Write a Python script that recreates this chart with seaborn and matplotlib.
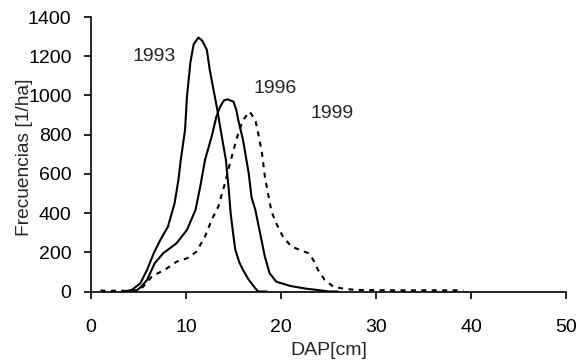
import matplotlib
matplotlib.use("Agg")
import matplotlib.pyplot as plt
import seaborn as sns
import pandas as pd

# ---- data ----
x_1993 = [3.5, 4.3, 5.2, 5.9, 6.6, 7.3, 8.1, 8.8, 9.2, 9.45, 9.9, 10.1, 10.35, 10.45, 10.8, 11.3,
          11.7, 12.2, 12.5, 12.9, 13.3, 13.65, 14.2, 14.5, 14.7, 15.0, 15.2, 15.6, 16.0, 16.6, 17.3, 17.6, 18.5]
y_1993 = [0, 8, 42, 110, 195, 263, 331, 450, 569, 671, 824, 994, 1113, 1164, 1260, 1295,
          1280, 1232, 1130, 1028, 926, 824, 671, 520, 399, 280, 212, 150, 110, 60, 16, 0, 0]

x_1996 = [4.5, 4.8, 5.3, 5.9, 6.7, 7.6, 9.0, 10.1, 11.0, 11.5, 12.0, 12.7, 13.2, 13.6, 14.0, 14.4,
          15.0, 15.3, 15.5, 16.0, 16.6, 16.9, 17.3, 17.8, 18.3, 18.8, 19.5, 21.0, 22.7, 23.8, 25.0, 26.0]
y_1996 = [0, 5, 25, 59, 144, 195, 246, 314, 416, 535, 671, 790, 892, 943, 975, 980,
          968, 925, 875, 773, 603, 480, 416, 297, 178, 93, 50, 28, 14, 8, 0, 0]

x_1999 = [1.0, 2.0, 3.0, 4.0, 5.0, 5.5, 6.4, 8.0, 9.0, 10.1, 11.1, 12.0, 12.7, 13.4, 14.1, 14.5,
          15.1, 15.5, 16.0, 16.7, 17.3, 17.6, 18.0, 18.3, 18.7, 19.0, 19.5, 20.2, 21.1, 22.0, 22.9,
          23.4, 23.9, 24.6, 25.5, 26.7, 28.0, 30.0, 32.0, 34.0, 36.0, 38.0, 39.2]
y_1999 = [5, 3, 5, 2, 8, 25, 76, 118, 152, 169, 203, 280, 365, 433, 552, 630,
          739, 807, 875, 917, 875, 807, 705, 586, 484, 407, 348, 280, 229, 212, 195,
          161, 110, 59, 25, 13, 8, 7, 6, 6, 6, 6, 6]

labels = ["1993", "1996", "1999"]
x_ticks = [0, 10, 20, 30, 40, 50]
y_ticks = [0, 200, 400, 600, 800, 1000, 1200, 1400]

df = pd.concat([
    pd.DataFrame({"DAP": x_1993, "freq": y_1993, "year": "1993"}),
    pd.DataFrame({"DAP": x_1996, "freq": y_1996, "year": "1996"}),
    pd.DataFrame({"DAP": x_1999, "freq": y_1999, "year": "1999"}),
])

sns.set_style("white")
plt.rcParams['font.family'] = ['Liberation Sans', 'DejaVu Sans']

fig = plt.figure(figsize=(5.8, 3.6), dpi=100)
ax = fig.add_axes([91/580, 1-291.5/360, 475/580, (291.5-17)/360])

styles = {"1993": "-", "1996": "-", "1999": (0, (2.4, 2.6))}
for yr in labels:
    sub = df[df["year"] == yr]
    sns.lineplot(data=sub, x="DAP", y="freq", ax=ax, color="black", lw=1.5,
                 linestyle=styles[yr], sort=False, estimator=None, legend=False)

ax.set_xlim(0, 50)
ax.set_ylim(0, 1400)
ax.set_xticks(x_ticks)
ax.set_yticks(y_ticks)
ax.tick_params(axis="both", labelsize=14, color="black", length=5, width=1.2,
               direction="out", labelcolor="black")
ax.tick_params(axis="x", pad=15)
ax.tick_params(axis="y", pad=9)
ax.xaxis.set_ticks_position("bottom")
ax.yaxis.set_ticks_position("left")
for s in ["top", "right"]:
    ax.spines[s].set_visible(False)
for s in ["left", "bottom"]:
    ax.spines[s].set_color("black")
    ax.spines[s].set_linewidth(1.2)
ax.set_xlabel("DAP[cm]", fontsize=14, labelpad=4)
ax.set_ylabel("Frecuencias [1/ha]", fontsize=13.8)
ax.yaxis.set_label_coords(-0.122, 0.49)

ax.text(6.6, 1196, "1993", fontsize=14, ha="center", va="center")
ax.text(19.4, 1033, "1996", fontsize=14, ha="center", va="center")
ax.text(25.4, 906, "1999", fontsize=14, ha="center", va="center")

fig.savefig("out.png", dpi=100)
